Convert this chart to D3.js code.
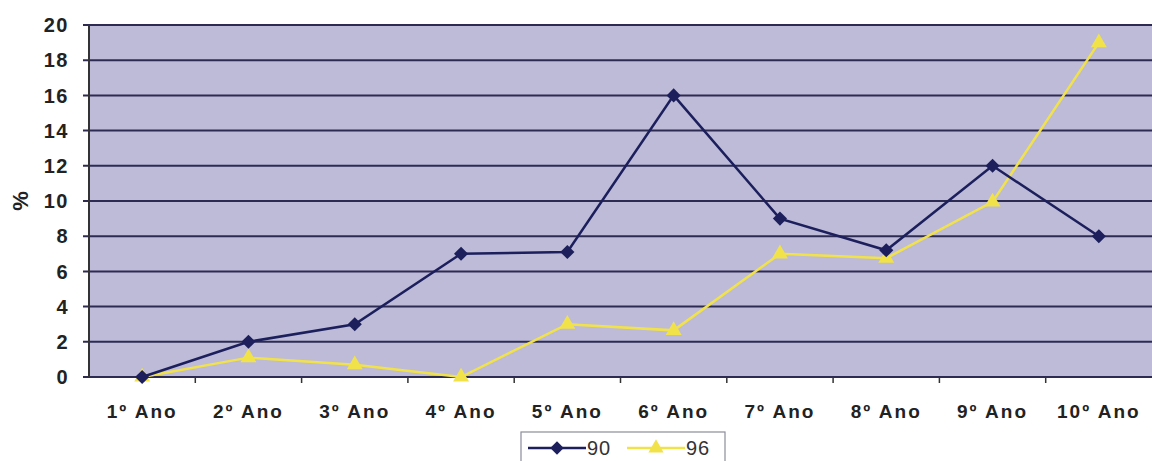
<!DOCTYPE html>
<html>
<head>
<meta charset="utf-8">
<script src="https://cdn.jsdelivr.net/npm/d3@7"></script>
<style>
  body { margin: 0; background: #fff; }
  text { font-family: "Liberation Sans", Arial, sans-serif; }
</style>
</head>
<body>
<div id="chart"></div>
<script>
// categories and series
var anos = ["1º Ano", "2º Ano", "3º Ano", "4º Ano", "5º Ano", "6º Ano", "7º Ano", "8º Ano", "9º Ano", "10º Ano"];
var serie90 = [0, 2, 3, 7, 7.1, 16, 9, 7.2, 12, 8];
var serie96 = [0, 1.1, 0.7, 0, 3, 2.65, 7, 6.75, 9.95, 19];
var yTicks = [0, 2, 4, 6, 8, 10, 12, 14, 16, 18, 20];

var width = 1152, height = 461;
var margin = {top: 25, right: 0, bottom: 84, left: 89};

var svg = d3.select("#chart").append("svg")
    .attr("width", width)
    .attr("height", height);

var x = d3.scaleBand()
    .domain(anos)
    .range([margin.left, width - margin.right]);

var y = d3.scaleLinear()
    .domain([0, 20])
    .range([height - margin.bottom, margin.top]);

// plot background
svg.append("rect")
    .attr("x", margin.left)
    .attr("y", margin.top)
    .attr("width", width - margin.left - margin.right)
    .attr("height", y(0) - margin.top)
    .attr("fill", "#bdbbd8");

// gridlines
svg.selectAll(".grid")
    .data(yTicks)
    .enter().append("line")
    .attr("x1", margin.left - 6)
    .attr("x2", width)
    .attr("y1", function(d){ return y(d); })
    .attr("y2", function(d){ return y(d); })
    .attr("stroke", "#2e2b52")
    .attr("stroke-width", 2);

// y axis line
svg.append("line")
    .attr("x1", margin.left).attr("x2", margin.left)
    .attr("y1", margin.top).attr("y2", y(0))
    .attr("stroke", "#333")
    .attr("stroke-width", 2);

// y labels
svg.selectAll(".ylab")
    .data(yTicks)
    .enter().append("text")
    .attr("x", 69)
    .attr("y", function(d){ return y(d); })
    .attr("dy", "0.36em")
    .attr("text-anchor", "end")
    .attr("font-size", 20)
    .attr("font-weight", "bold")
    .attr("letter-spacing", 1.5)
    .attr("fill", "#222")
    .text(function(d){ return d; });

svg.append("text")
    .attr("transform", "translate(28," + y(10) + ") rotate(-90)")
    .attr("text-anchor", "middle")
    .attr("font-size", 22)
    .attr("font-weight", "bold")
    .attr("fill", "#222")
    .text("%");

// x ticks between categories
svg.selectAll(".xtick")
    .data(anos.slice(1))
    .enter().append("line")
    .attr("x1", function(d){ return x(d); })
    .attr("x2", function(d){ return x(d); })
    .attr("y1", y(0))
    .attr("y2", y(0) + 6)
    .attr("stroke", "#333")
    .attr("stroke-width", 1.5);

svg.selectAll(".xlab")
    .data(anos)
    .enter().append("text")
    .attr("x", function(d){ return x(d) + x.bandwidth() / 2; })
    .attr("y", 418)
    .attr("text-anchor", "middle")
    .attr("font-size", 19)
    .attr("font-weight", "bold")
    .attr("letter-spacing", 2)
    .attr("fill", "#222")
    .text(function(d){ return d; });

var line = d3.line()
    .x(function(d, i){ return x(anos[i]) + x.bandwidth() / 2; })
    .y(function(d){ return y(d); });

var c90 = "#1c1f5c", c96 = "#f2e24a";

svg.append("path")
    .datum(serie96)
    .attr("d", line)
    .attr("fill", "none")
    .attr("stroke", c96)
    .attr("stroke-width", 2.5);

svg.selectAll(".m96")
    .data(serie96)
    .enter().append("path")
    .attr("transform", function(d, i){ return "translate(" + (x(anos[i]) + x.bandwidth() / 2) + "," + y(d) + ")"; })
    .attr("d", d3.symbol().type(d3.symbolTriangle).size(110))
    .attr("fill", c96);

svg.append("path")
    .datum(serie90)
    .attr("d", line)
    .attr("fill", "none")
    .attr("stroke", c90)
    .attr("stroke-width", 2.5);

svg.selectAll(".m90")
    .data(serie90)
    .enter().append("path")
    .attr("transform", function(d, i){ return "translate(" + (x(anos[i]) + x.bandwidth() / 2) + "," + y(d) + ") rotate(45)"; })
    .attr("d", d3.symbol().type(d3.symbolSquare).size(100))
    .attr("fill", c90);

// legend
var leg = svg.append("g").attr("transform", "translate(521,432)");
leg.append("rect")
    .attr("width", 204).attr("height", 34)
    .attr("fill", "#fff")
    .attr("stroke", "#8c8c9c")
    .attr("stroke-width", 1.2);

var legItems = [{name: "90", color: c90, sym: "d"}, {name: "96", color: c96, sym: "t"}];
legItems.forEach(function(it, i){
    var g = leg.append("g").attr("transform", "translate(" + (7 + i * 99) + ",16)");
    g.append("line").attr("x1", 0).attr("x2", 58).attr("stroke", it.color).attr("stroke-width", 2.5);
    g.append("path")
        .attr("transform", "translate(29,0)" + (it.sym == "d" ? " rotate(45)" : ""))
        .attr("d", d3.symbol().type(it.sym == "d" ? d3.symbolSquare : d3.symbolTriangle).size(it.sym == "d" ? 90 : 100))
        .attr("fill", it.color);
    g.append("text")
        .attr("x", 59).attr("dy", "0.36em")
        .attr("font-size", 20)
        .attr("letter-spacing", 1)
        .attr("fill", "#333")
        .text(it.name);
});
</script>
</body>
</html>
